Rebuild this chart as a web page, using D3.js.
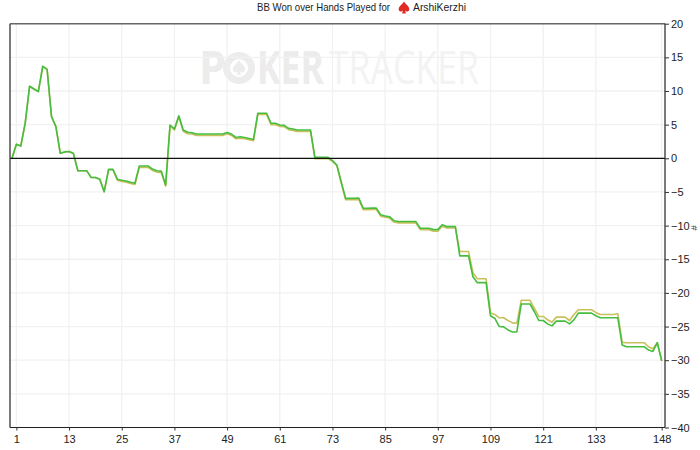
<!DOCTYPE html>
<html><head><meta charset="utf-8">
<script src="https://cdnjs.cloudflare.com/ajax/libs/d3/7.8.5/d3.min.js"></script>
<style>html,body{margin:0;padding:0;background:#fff}svg{display:block}text{font-family:"Liberation Sans",Arial,sans-serif}</style>
</head><body><svg id="c" width="700" height="450"></svg>
<script>
const greenValues = [0,2.08,1.83,5.2,10.7,10.3,9.9,13.67,13.2,6.2,4.7,0.74,0.95,1.0,0.7,-1.84,-1.84,-1.84,-2.83,-2.85,-3.1,-4.96,-1.64,-1.64,-3.1,
-3.27,-3.37,-3.57,-3.7,-1.14,-1.14,-1.14,-1.6,-1.84,-1.9,-3.97,4.95,4.35,6.33,4.2,3.86,3.8,3.6,3.6,3.6,3.6,3.6,3.6,3.6,3.85,
3.6,3.1,3.2,3.1,2.95,2.8,6.7,6.7,6.7,5.2,5.2,4.95,4.9,4.45,4.35,4.2,4.2,4.2,4.2,0.15,0.15,0.15,0.15,-0.35,-1.0,
-3.5,-5.95,-5.95,-5.95,-5.9,-7.43,-7.43,-7.4,-7.4,-8.4,-8.57,-8.68,-9.27,-9.4,-9.4,-9.4,-9.4,-9.4,-10.4,-10.4,-10.4,-10.6,-10.6,-9.87,-10.15,
-10.15,-10.15,-14.5,-14.5,-14.5,-17.6,-18.48,-18.48,-18.48,-23.4,-23.8,-25,-25.05,-25.5,-25.8,-25.8,-21.65,-21.65,-21.65,-22.8,-24.1,-24.1,-24.6,-24.9,-24.2,
-24.2,-24.2,-24.6,-24,-23,-23,-23,-23,-23.4,-23.7,-23.7,-23.7,-23.7,-23.7,-27.75,-28,-28,-28,-28,-28,-28.5,-28.7,-27.4,-30.1];
const yellowValues = [0,2.08,1.83,5.2,10.7,10.3,9.9,13.67,13.2,6.2,4.7,0.74,0.95,1.0,0.7,-1.84,-1.84,-1.84,-2.83,-2.85,-3.1,-4.96,-1.7,-1.7,-3.25,
-3.45,-3.55,-3.75,-3.9,-1.35,-1.35,-1.35,-1.8,-2.05,-2.1,-4.1,4.85,4.2,6.2,4.0,3.65,3.6,3.4,3.4,3.4,3.4,3.4,3.4,3.4,3.65,
3.4,2.9,3.0,2.9,2.75,2.6,6.5,6.5,6.5,5.0,5.0,4.75,4.7,4.25,4.15,4.0,4.0,4.0,4.0,-0.05,-0.05,-0.05,-0.05,-0.45,-1.1,
-3.7,-6.15,-6.15,-6.15,-6.1,-7.65,-7.65,-7.6,-7.6,-8.6,-8.77,-8.88,-9.47,-9.6,-9.6,-9.6,-9.6,-9.6,-10.6,-10.6,-10.6,-10.85,-10.85,-10.1,-10.35,
-10.35,-10.35,-13.85,-13.85,-13.85,-17.0,-17.9,-17.9,-17.9,-23.0,-23.2,-23.7,-23.7,-24.1,-24.45,-24.5,-21.1,-21.1,-21.1,-22.3,-23.5,-23.5,-24,-24.35,-23.6,
-23.6,-23.6,-24.1,-23.2,-22.5,-22.5,-22.5,-22.5,-22.9,-23.2,-23.2,-23.2,-23.2,-23.1,-27.35,-27.4,-27.4,-27.4,-27.4,-27.4,-28.0,-28.3,-27.4,-30.1];
const xTicks = [1,13,25,37,49,61,73,85,97,109,121,133,148];
const yTicks = [20,15,10,5,0,-5,-10,-15,-20,-25,-30,-35,-40];
const titleText = "BB Won over Hands Played for";
const playerName = "ArshiKerzhi";

const svg = d3.select("#c");
const plotL = 10, plotR = 665, plotT = 23.7, plotB = 427.5;
const x = d3.scaleLinear().domain([0,148]).range([12,661.7]);
const y = d3.scaleLinear().domain([-40,20]).range([plotB,plotT]);

// watermark
const wm = svg.append("g");
function wmWord(str, px, width, weight, fill){
  const t = wm.append("text").attr("font-size",46).attr("font-weight",weight).attr("fill",fill)
    .style("font-family","'Open Sans',sans-serif").text(str);
  const k = width / t.node().getComputedTextLength();
  t.attr("transform",`translate(${px},84) scale(${k},1)`);
}
wmWord("P",199,27,700,"#ececec");
const chip = wm.append("g").attr("transform","translate(239,68)");
chip.append("circle").attr("r",12.5).attr("fill","none").attr("stroke","#ececec").attr("stroke-width",7);
chip.append("path").attr("d","M0,-8C2,-4 7,-2 6,2.5C5,5 2,5 1,3.5L2,7H-2L-1,3.5C-2,5 -5,5 -6,2.5C-7,-2 -2,-4 0,-8Z").attr("fill","#ececec");
wmWord("KER",257,67,700,"#ececec");
wmWord("TRACKER",329,150,400,"#f3f3f3");

// grid
const grid = svg.append("g").attr("stroke","#f1f1f1").attr("stroke-width",1.3);
grid.selectAll("line.gx").data(xTicks).join("line").attr("class","gx").attr("x1",d=>x(d)).attr("x2",d=>x(d)).attr("y1",plotT).attr("y2",plotB);
grid.selectAll("line.gy").data(yTicks).join("line").attr("class","gy").attr("y1",d=>y(d)).attr("y2",d=>y(d)).attr("x1",plotL).attr("x2",plotR);

// lines
const line = d3.line().x((d,i)=>x(i)).y(d=>y(d));
svg.append("path").datum(yellowValues).attr("d",line).attr("fill","none").attr("stroke","#c9c05c").attr("stroke-width",1.6).attr("stroke-linejoin","round");
svg.append("path").datum(greenValues).attr("d",line).attr("fill","none").attr("stroke","#47bd3f").attr("stroke-width",1.6).attr("stroke-linejoin","round");

// zero line
svg.append("line").attr("x1",plotL).attr("x2",plotR).attr("y1",y(0)).attr("y2",y(0)).attr("stroke","#111").attr("stroke-width",1.2);

// frame
svg.append("line").attr("x1",plotL).attr("x2",plotR).attr("y1",plotT).attr("y2",plotT).attr("stroke","#666").attr("stroke-width",1.4);
svg.append("line").attr("x1",plotL).attr("x2",plotL).attr("y1",plotT).attr("y2",plotB).attr("stroke","#444").attr("stroke-width",1.4);

// axes
const ax = svg.append("g").attr("transform",`translate(0,${plotB})`)
  .call(d3.axisBottom(x).tickValues(xTicks).tickSize(3).tickPadding(5).tickFormat(d3.format("d")));
ax.select(".domain").attr("d",`M${plotL},0H${plotR}`).attr("stroke","#222").attr("stroke-width",1.2);
ax.selectAll("text").attr("font-size",11).attr("fill","#222").style("font-family","'Liberation Sans',sans-serif");
ax.selectAll("line").attr("stroke","#333");
const ay = svg.append("g").attr("transform",`translate(${plotR},0)`)
  .call(d3.axisRight(y).tickValues(yTicks).tickSize(4).tickPadding(2).tickFormat(d3.format("d")));
ay.select(".domain").attr("d",`M0,${plotT}V${plotB}`).attr("stroke","#222").attr("stroke-width",1.2);
ay.selectAll("text").attr("font-size",11).attr("fill","#222").style("font-family","'Liberation Sans',sans-serif");
ay.selectAll("line").attr("stroke","#333");

svg.append("text").attr("transform","translate(691,228) rotate(90)").attr("text-anchor","middle").attr("font-size",9.5).attr("fill","#333").text("#");

// title
svg.append("text").attr("x",257).attr("y",11).attr("font-size",10.5).attr("fill","#222").attr("textLength",133).attr("lengthAdjust","spacingAndGlyphs").text(titleText);
svg.append("path").attr("transform","translate(404,8)").attr("fill","#e02a26")
  .attr("d","M0,-6.5C1.5,-3.5 5.5,-2 5.3,1.5C5,4 2,4 1,2.6L2,5.5H-2L-1,2.6C-2,4 -5,4 -5.3,1.5C-5.5,-2 -1.5,-3.5 0,-6.5Z");
svg.append("text").attr("x",413).attr("y",11).attr("font-size",10.5).attr("fill","#222").attr("textLength",53).attr("lengthAdjust","spacingAndGlyphs").text(playerName);
</script></body></html>
